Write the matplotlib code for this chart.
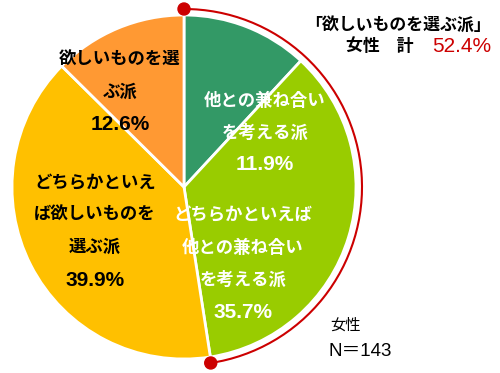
import numpy as np
import matplotlib.pyplot as plt
from matplotlib.patches import Arc, Circle

plt.rcParams['font.family'] = ['Liberation Sans', 'Noto Sans CJK JP', 'DejaVu Sans']

# data
names = [["他との兼ね合い", "を考える派"],
         ["どちらかといえば", "他との兼ね合い", "を考える派"],
         ["どちらかといえ", "ば欲しいものを", "選ぶ派"],
         ["欲しいものを選", "ぶ派"]]
values = [11.9, 35.7, 39.9, 12.6]
colors = ["#339966", "#99CC00", "#FFC000", "#FF9933"]
text_colors = ["white", "white", "black", "black"]
# label anchor: centre x and y of first line (pixels, y from top)
label_pos = [(265, 100), (243, 215), (95, 183), (120, 60)]
total_pct = 52.4
sample_n = 143

W, H = 500, 373
fig = plt.figure(figsize=(W / 100, H / 100), dpi=100)
ax = fig.add_axes([0, 0, 1, 1])

cx, cy, r = 184, 373 - 187, 172
ax.pie(values, colors=colors, startangle=90, counterclock=False,
       center=(cx, cy), radius=r,
       wedgeprops=dict(edgecolor="white", linewidth=2))

# red arc around "欲しいものを選ぶ派" share
start = 90 - sum(values[:2]) / 100 * 360
ra = 178
ax.add_patch(Arc((cx, cy), 2 * ra, 2 * ra, theta1=start, theta2=90,
                 color="#CC0000", linewidth=1.5))
for a in (start, 90):
    t = np.radians(a)
    ax.add_patch(Circle((cx + ra * np.cos(t), cy + ra * np.sin(t)), 6,
                        color="#CC0000", zorder=5))

step = 32
for lines, v, tc, (x, y) in zip(names, values, text_colors, label_pos):
    for i, line in enumerate(lines):
        ax.text(x, H - (y + i * step), line, color=tc, fontsize=12.5,
                fontweight="bold", ha="center", va="center")
    ax.text(x, H - (y + len(lines) * step + 1), f"{v:.1f}%", color=tc,
            fontsize=15, fontweight="bold", ha="center", va="center")

ax.text(491, H - 24, "「欲しいものを選ぶ派」", fontsize=12.2, fontweight="bold",
        ha="right", va="center")
ax.text(414, H - 46, "女性　計", fontsize=12.2, fontweight="bold",
        ha="right", va="center")
ax.text(491, H - 46, f"{total_pct:.1f}%", fontsize=15, color="#CC0000",
        ha="right", va="center")

ax.text(330, H - 326, "女性", fontsize=11, ha="left", va="center")
ax.text(328, H - 352, f"N＝{sample_n}", fontsize=13.5, ha="left", va="center")

ax.set_xlim(0, W)
ax.set_ylim(0, H)
ax.set_aspect("equal")
ax.axis("off")

fig.savefig("out.png", dpi=100)
